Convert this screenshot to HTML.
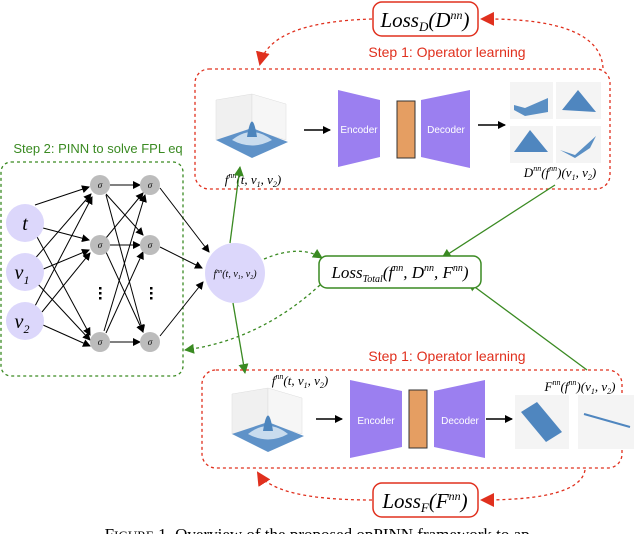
<!DOCTYPE html>
<html><head><meta charset="utf-8"><style>
html,body{margin:0;padding:0;background:#fff;width:640px;height:534px;overflow:hidden}
svg{display:block}
.m{font-family:"Liberation Serif",serif;font-style:italic}
.s{font-family:"Liberation Sans",sans-serif}
</style></head><body>
<svg width="640" height="534" viewBox="0 0 640 534" xmlns="http://www.w3.org/2000/svg">
<defs>
<marker id="ab" markerWidth="8" markerHeight="8" refX="7" refY="4" orient="auto" markerUnits="userSpaceOnUse"><path d="M0,0 L8,4 L0,8z" fill="#000"/></marker>
<marker id="ag" markerWidth="10" markerHeight="10" refX="9" refY="5" orient="auto" markerUnits="userSpaceOnUse"><path d="M0,0 L10,5 L0,10z" fill="#3a8a22"/></marker>
<marker id="ar" markerWidth="14" markerHeight="14" refX="12" refY="7" orient="auto" markerUnits="userSpaceOnUse"><path d="M0,0 L14,7 L0,14z" fill="#e0301e"/></marker>
<g id="plotF">
<rect x="0" y="0" width="78" height="70" fill="#fff"/>
<path d="M4,6 L40,0 L40,36 L4,46z" fill="#f0f0f0" stroke="#ddd" stroke-width="0.5"/>
<path d="M40,0 L74,10 L74,46 L40,36z" fill="#f6f6f6" stroke="#ddd" stroke-width="0.5"/>
<path d="M4,46 L40,34 L76,48 L40,64z" fill="#5f92c8"/>
<path d="M20,46 Q40,30 60,46 Q40,57 20,46z" fill="#c9dcee"/>
<path d="M35,43 Q40,12 45,43z" fill="#4d85bd"/>
</g>
</defs>

<rect x="373" y="2" width="105" height="34" rx="9" fill="#fff" stroke="#e0301e" stroke-width="1.5"/>
<text x="425" y="27" class="m" font-size="21" text-anchor="middle">Loss<tspan font-size="13" dy="4">D</tspan><tspan dy="-4">(D</tspan><tspan font-size="12" dy="-8">nn</tspan><tspan dy="8">)</tspan></text>
<path d="M372,19 Q270,22 260,64" fill="none" stroke="#e0301e" stroke-width="1.3" stroke-dasharray="3,3" marker-end="url(#ar)"/>
<path d="M603,68 Q600,18 482,19" fill="none" stroke="#e0301e" stroke-width="1.3" stroke-dasharray="3,3" marker-end="url(#ar)"/>
<text x="447" y="57" class="s" font-size="14" fill="#e0301e" text-anchor="middle">Step 1: Operator learning</text>
<rect x="195" y="69" width="415" height="120" rx="14" fill="none" stroke="#e0301e" stroke-width="1.3" stroke-dasharray="3,3"/>

<use href="#plotF" x="212" y="94"/>
<line x1="304" y1="130" x2="330" y2="130" stroke="#000" stroke-width="1.5" marker-end="url(#ab)"/>
<path d="M338,90 L380,100 L380,157 L338,167z" fill="#9b7ff0"/>
<text x="359" y="133" class="s" font-size="10" fill="#fff" text-anchor="middle">Encoder</text>
<rect x="397" y="101" width="18" height="57" fill="#e59e62" stroke="#333" stroke-width="1"/>
<path d="M421,100 L470,90 L470,168 L421,157z" fill="#9b7ff0"/>
<text x="446" y="133" class="s" font-size="10" fill="#fff" text-anchor="middle">Decoder</text>
<line x1="478" y1="125" x2="505" y2="125" stroke="#000" stroke-width="1.5" marker-end="url(#ab)"/>
<g>
<rect x="510" y="82" width="43" height="37" fill="#f4f4f4"/>
<path d="M514,105 L525,108 L548,98 L548,112 L525,116 L514,110z" fill="#5a8fc4"/>
<rect x="556" y="82" width="45" height="37" fill="#f4f4f4"/>
<path d="M562,110 L578,90 L596,112z" fill="#4f86bf"/>
<rect x="510" y="126" width="43" height="37" fill="#f4f4f4"/>
<path d="M514,152 L530,130 L548,152z" fill="#4f86bf"/>
<rect x="556" y="126" width="45" height="37" fill="#f4f4f4"/>
<path d="M560,150 L575,155 L596,136 L590,148 L575,158z" fill="#5a8fc4"/>
</g>
<text x="253" y="184" class="m" font-size="13" text-anchor="middle">f<tspan font-size="8" dy="-6">nn</tspan><tspan dy="6">(t, v</tspan><tspan font-size="8" dy="3">1</tspan><tspan dy="-3">, v</tspan><tspan font-size="8" dy="3">2</tspan><tspan dy="-3">)</tspan></text>
<text x="560" y="177" class="m" font-size="13" text-anchor="middle">D<tspan font-size="8" dy="-6">nn</tspan><tspan dy="6">(f</tspan><tspan font-size="8" dy="-6">nn</tspan><tspan dy="6">)(v</tspan><tspan font-size="8" dy="3">1</tspan><tspan dy="-3">, v</tspan><tspan font-size="8" dy="3">2</tspan><tspan dy="-3">)</tspan></text>

<text x="98" y="153" class="s" font-size="13" fill="#3a8a22" text-anchor="middle">Step 2: PINN to solve FPL eq</text>
<rect x="1" y="162" width="182" height="214" rx="10" fill="none" stroke="#3a8a22" stroke-width="1.3" stroke-dasharray="3,3"/>
<g stroke="#000" stroke-width="1" marker-end="url(#ab)">
<line x1="35" y1="205" x2="89" y2="187"/>
<line x1="43" y1="228" x2="89" y2="240"/>
<line x1="36" y1="235" x2="90" y2="335"/>
<line x1="32" y1="262" x2="91" y2="194"/>
<line x1="41" y1="270" x2="89" y2="250"/>
<line x1="36" y1="282" x2="90" y2="340"/>
<line x1="34" y1="308" x2="92" y2="197"/>
<line x1="42" y1="312" x2="90" y2="253"/>
<line x1="43" y1="325" x2="90" y2="346"/>
<line x1="110" y1="185" x2="140" y2="185"/>
<line x1="106" y1="194" x2="143" y2="235"/>
<line x1="106" y1="195" x2="143" y2="332"/>
<line x1="106" y1="238" x2="143" y2="193"/>
<line x1="110" y1="245" x2="140" y2="245"/>
<line x1="106" y1="252" x2="143" y2="332"/>
<line x1="104" y1="331" x2="145" y2="195"/>
<line x1="106" y1="333" x2="143" y2="252"/>
<line x1="110" y1="342" x2="140" y2="342"/>
<line x1="160" y1="188" x2="209" y2="252"/>
<line x1="160" y1="247" x2="202" y2="268"/>
<line x1="160" y1="336" x2="203" y2="282"/>
</g>
<g fill="#dcd7fb">
<circle cx="25" cy="223" r="19"/><circle cx="25" cy="272" r="19"/><circle cx="25" cy="321" r="19"/>
</g>
<text x="25" y="230" class="m" font-size="20" text-anchor="middle">t</text>
<text x="22" y="279" class="m" font-size="20" text-anchor="middle">v<tspan font-size="12" dy="5">1</tspan></text>
<text x="22" y="328" class="m" font-size="20" text-anchor="middle">v<tspan font-size="12" dy="5">2</tspan></text>
<g fill="#bcbcbc">
<circle cx="100" cy="185" r="10"/><circle cx="100" cy="245" r="10"/><circle cx="100" cy="342" r="10"/>
<circle cx="150" cy="185" r="10"/><circle cx="150" cy="245" r="10"/><circle cx="150" cy="342" r="10"/>
</g>
<g class="m" font-size="9" text-anchor="middle">
<text x="100" y="188">σ</text><text x="100" y="248">σ</text><text x="100" y="345">σ</text>
<text x="150" y="188">σ</text><text x="150" y="248">σ</text><text x="150" y="345">σ</text>
</g>
<g fill="#000"><rect x="99" y="287" width="2.5" height="2.5"/><rect x="99" y="292" width="2.5" height="2.5"/><rect x="99" y="297" width="2.5" height="2.5"/>
<rect x="150" y="287" width="2.5" height="2.5"/><rect x="150" y="292" width="2.5" height="2.5"/><rect x="150" y="297" width="2.5" height="2.5"/></g>
<circle cx="235" cy="273" r="30" fill="#dcd7fb"/>
<text x="235" y="277" class="m" font-size="10" text-anchor="middle">f<tspan font-size="6" dy="-4">nn</tspan><tspan dy="4">(t, v</tspan><tspan font-size="6" dy="2">1</tspan><tspan dy="-2">, v</tspan><tspan font-size="6" dy="2">2</tspan><tspan dy="-2">)</tspan></text>

<line x1="230" y1="243" x2="240" y2="167" stroke="#3a8a22" stroke-width="1.3" marker-end="url(#ag)"/>
<line x1="233" y1="303" x2="245" y2="373" stroke="#3a8a22" stroke-width="1.3" marker-end="url(#ag)"/>
<line x1="555" y1="185" x2="442" y2="258" stroke="#3a8a22" stroke-width="1.3" marker-end="url(#ag)"/>
<line x1="587" y1="370" x2="468" y2="282" stroke="#3a8a22" stroke-width="1.3" marker-end="url(#ag)"/>
<path d="M264,259 Q300,244 322,258" fill="none" stroke="#3a8a22" stroke-width="1.3" stroke-dasharray="3,3" marker-end="url(#ag)"/>
<path d="M320,285 Q260,340 185,350" fill="none" stroke="#3a8a22" stroke-width="1.3" stroke-dasharray="3,3" marker-end="url(#ag)"/>
<rect x="319" y="256" width="162" height="32" rx="8" fill="#fff" stroke="#3a8a22" stroke-width="1.5"/>
<text x="400" y="278" class="m" font-size="17" text-anchor="middle">Loss<tspan font-size="10" dy="4">Total</tspan><tspan dy="-4">(f</tspan><tspan font-size="10" dy="-7">nn</tspan><tspan dy="7">, D</tspan><tspan font-size="10" dy="-7">nn</tspan><tspan dy="7">, F</tspan><tspan font-size="10" dy="-7">nn</tspan><tspan dy="7">)</tspan></text>

<text x="447" y="361" class="s" font-size="14" fill="#e0301e" text-anchor="middle">Step 1: Operator learning</text>
<rect x="202" y="370" width="420" height="98" rx="14" fill="none" stroke="#e0301e" stroke-width="1.3" stroke-dasharray="3,3"/>
<text x="300" y="385" class="m" font-size="13" text-anchor="middle">f<tspan font-size="8" dy="-6">nn</tspan><tspan dy="6">(t, v</tspan><tspan font-size="8" dy="3">1</tspan><tspan dy="-3">, v</tspan><tspan font-size="8" dy="3">2</tspan><tspan dy="-3">)</tspan></text>
<use href="#plotF" x="228" y="388"/>
<line x1="316" y1="419" x2="342" y2="419" stroke="#000" stroke-width="1.5" marker-end="url(#ab)"/>
<path d="M350,380 L402,391 L402,447 L350,458z" fill="#9b7ff0"/>
<text x="376" y="424" class="s" font-size="10" fill="#fff" text-anchor="middle">Encoder</text>
<rect x="409" y="390" width="18" height="58" fill="#e59e62" stroke="#333" stroke-width="1"/>
<path d="M434,391 L485,380 L485,458 L434,447z" fill="#9b7ff0"/>
<text x="460" y="424" class="s" font-size="10" fill="#fff" text-anchor="middle">Decoder</text>
<line x1="486" y1="419" x2="512" y2="419" stroke="#000" stroke-width="1.5" marker-end="url(#ab)"/>
<rect x="515" y="395" width="54" height="54" fill="#f4f4f4"/>
<path d="M521,412 L537,402 L562,432 L546,442z" fill="#4f86bf"/>
<rect x="578" y="395" width="56" height="54" fill="#f4f4f4"/>
<line x1="584" y1="414" x2="630" y2="427" stroke="#4f86bf" stroke-width="2"/>
<text x="580" y="391" class="m" font-size="13" text-anchor="middle">F<tspan font-size="8" dy="-6">nn</tspan><tspan dy="6">(f</tspan><tspan font-size="8" dy="-6">nn</tspan><tspan dy="6">)(v</tspan><tspan font-size="8" dy="3">1</tspan><tspan dy="-3">, v</tspan><tspan font-size="8" dy="3">2</tspan><tspan dy="-3">)</tspan></text>

<rect x="373" y="483" width="105" height="34" rx="9" fill="#fff" stroke="#e0301e" stroke-width="1.5"/>
<text x="425" y="508" class="m" font-size="21" text-anchor="middle">Loss<tspan font-size="13" dy="4">F</tspan><tspan dy="-4">(F</tspan><tspan font-size="12" dy="-8">nn</tspan><tspan dy="8">)</tspan></text>
<path d="M372,500 Q275,500 258,473" fill="none" stroke="#e0301e" stroke-width="1.3" stroke-dasharray="3,3" marker-end="url(#ar)"/>
<path d="M585,470 Q580,500 482,500" fill="none" stroke="#e0301e" stroke-width="1.3" stroke-dasharray="3,3" marker-end="url(#ar)"/>

<text x="320" y="540" font-family="Liberation Serif,serif" font-size="17" text-anchor="middle">F<tspan font-size="13">IGURE</tspan> 1. Overview of the proposed opPINN framework to ap-</text>
</svg>
</body></html>
